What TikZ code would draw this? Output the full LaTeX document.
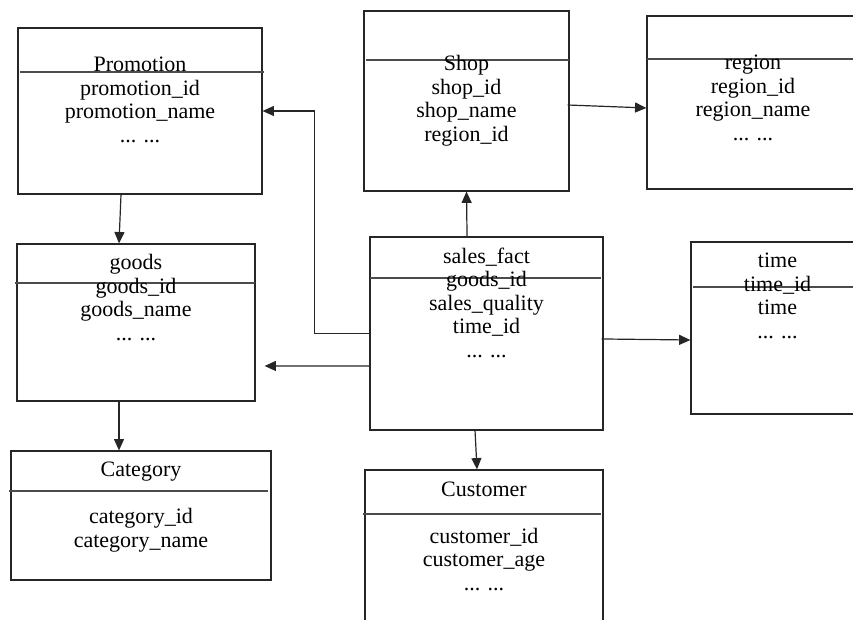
\documentclass[tikz,border=0pt]{standalone}
\usepackage{fontspec}
\setmainfont{Liberation Serif}
\usetikzlibrary{arrows.meta,fit}

\begin{document}
\begin{tikzpicture}[
  x=0.75pt, y=-0.75pt,
  >={Triangle[length=8.5pt,width=7.5pt]},
  table/.style={draw=black!85, line width=.9pt, inner sep=0pt},
  rule/.style={draw=black!70, line width=.8pt},
  rows/.style={font=\fontsize{16.5}{17.6}\selectfont, align=center,
    anchor=base, inner sep=0pt},
  link/.style={->, draw=black!85, line width=.9pt}
]
\useasboundingbox (0,0) rectangle (853,620);
\fill[white] (0,0) rectangle (853,620);

% tables
\node[table, fit={(18,28) (262,194)}] (promotion) {};
\node[table, fit={(364,11) (569,191)}] (shop) {};
\node[table, fit={(647,16) (859,189)}] (region) {};
\node[table, fit={(17,244) (255,401)}] (goods) {};
\node[table, fit={(370,237) (603,430)}] (sales) {};
\node[table, fit={(691,242) (864,414)}] (time) {};
\node[table, fit={(11,451) (271,580)}] (category) {};
\node[table, fit={(365,470) (603,630)}] (customer) {};

% header rules
\draw[rule] (20,72) -- (264,72);
\draw[rule] (366,60) -- (569,60);
\draw[rule] (647,59) -- (859,59);
\draw[rule] (15,283) -- (255,283);
\draw[rule] (370,278) -- (601,278);
\draw[rule] (693,287) -- (859,287);
\draw[rule] (9,491) -- (268,491);
\draw[rule] (363,514) -- (601,514);

% fields (placed at the baseline of the last row)
\node[rows] (promotionrows) at (140,142.1)
  {Promotion\\promotion\_id\\promotion\_name\\... ...};
\node[rows] (shoprows) at (466.5,141.4)
  {Shop\\shop\_id\\shop\_name\\region\_id};
\node[rows] (regionrows) at (753,140.4)
  {region\\region\_id\\region\_name\\... ...};
\node[rows] (goodsrows) at (136,340)
  {goods\\goods\_id\\goods\_name\\... ...};
\node[rows] (salesrows) at (486.5,357.2)
  {sales\_fact\\goods\_id\\sales\_quality\\time\_id\\... ...};
\node[rows] (timerows) at (777.5,338.4)
  {time\\time\_id\\time\\... ...};
\node[rows] (categoryrows) at (141,547.1)
  {Category\\[17.6pt]category\_id\\category\_name};
\node[rows] (customerrows) at (484,590)
  {Customer\\[17.6pt]customer\_id\\customer\_age\\... ...};

% links
\draw[link] ([xshift=-14.25pt]promotion.south) -- ([xshift=-12.75pt]goods.north);
\draw[link] ([xshift=-12.75pt]goods.south) -- ([xshift=-16.5pt]category.north);
\draw[link] (sales.west) -- ++(-55,0) |- (promotion.east);
\draw[link] ([yshift=-24.4pt]sales.west) -- ([xshift=6.75pt,yshift=-32.6pt]goods.east);
\draw[link] ([xshift=-14.6pt]sales.north) -- (shop.south);
\draw[link] ([xshift=-1.5pt,yshift=-3pt]shop.east) -- ([yshift=-4.1pt]region.west);
\draw[link] ([xshift=-1.5pt,yshift=-4.1pt]sales.east) -- ([yshift=-9pt]time.west);
\draw[link] ([xshift=-8.6pt]sales.south) -- ([xshift=-5.25pt]customer.north);

\end{tikzpicture}
\end{document}
